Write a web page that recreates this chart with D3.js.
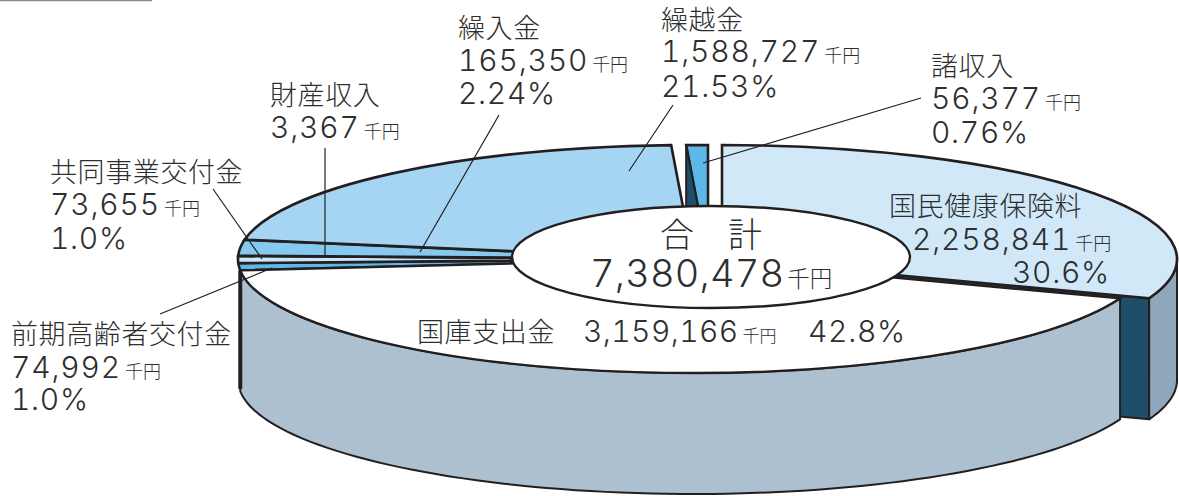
<!DOCTYPE html>
<html lang="ja"><head><meta charset="utf-8">
<script src="https://cdn.jsdelivr.net/npm/d3@7"></script>
<style>html,body{margin:0;padding:0;background:#fff}svg{display:block}
text{font-family:"Noto Sans CJK JP","Noto Sans",sans-serif;font-weight:300;fill:#2e2e2e}
.n{font-family:Inter,"Noto Sans CJK JP",sans-serif;font-weight:300;font-variant-numeric:tabular-nums;font-feature-settings:"tnum" 1}
.u{font-family:"Noto Sans CJK JP",sans-serif;font-weight:300;letter-spacing:0}</style>
</head><body><svg id="c" width="1179" height="496"></svg>
<script>
const names = ["国民健康保険料","国庫支出金","前期高齢者交付金","共同事業交付金","財産収入","繰入金","繰越金","諸収入"];
const values = [2258841,3159166,74992,73655,3367,165350,1588727,56377];
const percents = ["30.6%","42.8%","1.0%","1.0%","","2.24%","21.53%","0.76%"];
const totalLabel = "合　計";
const totalValue = 7380478;
const unit = "千円";

const W=1179,H=496, RX=455, RY=114, CY=259, DEPTH=121, INK="#231f20";
const colors = ["#d0e8f8","#ffffff","#5cb8e8","#cbe6f8","#cbe6f8","#85c9ef","#a5d5f2","#5cb8e8"];
const cx = i => i===0 ? 722 : i===7 ? 708 : 693;

const svg = d3.select("#c");
const pie = d3.pie().sort(null).startAngle(0).endAngle(2*Math.PI)(values);
const arc = d3.arc().innerRadius(0).outerRadius(RX);
const sx = a => Math.sin(a)*RX, sy = a => -Math.cos(a)*RY;
const fmt = d3.format(",");

// outer walls, built from pie angles
function wall(i,a0,a1){
  const n=80, pts=[];
  d3.range(n+1).forEach(k=>{const a=a0+(a1-a0)*k/n; pts.push([cx(i)+sx(a),CY+sy(a)]);});
  d3.range(n+1).forEach(k=>{const a=a1+(a0-a1)*k/n; pts.push([cx(i)+sx(a),CY+sy(a)+DEPTH]);});
  return d3.line()(pts)+"Z";
}
const walls = svg.append("g").attr("stroke",INK).attr("stroke-width",2).attr("stroke-linejoin","round");
const blue=pie[0], white=pie[1];
walls.append("path").attr("d",wall(0,Math.PI/2,blue.endAngle)).attr("fill","#8fa7bb");
{
 const a=blue.endAngle, x=cx(0), xe=x+sx(a), ye=CY+sy(a);
 walls.append("path").attr("d",d3.line()([[x,CY],[xe,ye],[xe,ye+DEPTH],[x,CY+DEPTH]])+"Z").attr("fill","#1f4f68");
}
walls.append("path").attr("d",wall(1,white.startAngle,white.endAngle)).attr("fill","#adc0cf");
{
 const a=white.endAngle, x=cx(1)+sx(a), y=CY+sy(a);
 walls.append("line").attr("x1",x).attr("x2",x).attr("y1",y).attr("y2",y+DEPTH*0.98).attr("stroke-width",4);
}

// top faces
const tops = svg.append("g");
[0,2,3,4,5,6,7,1].forEach(i=>{
  tops.append("path").attr("d",arc(pie[i]))
   .attr("transform",`translate(${cx(i)},${CY}) scale(1,${RY/RX})`)
   .attr("fill",colors[i]).attr("stroke",INK).attr("stroke-width",i===1?2.4:2.6)
   .attr("stroke-linejoin","miter")
   .style("vector-effect","non-scaling-stroke");
});
// visible side of the exploded sliver
{
 const a=pie[7].startAngle, x=cx(7), xe=x+sx(a), ye=CY+sy(a);
 tops.append("path").attr("d",d3.line()([[xe,ye],[x,CY],[xe,CY]])+"Z")
  .attr("fill","#1f4f68").attr("stroke",INK).attr("stroke-width",2);
}
// centre hole
svg.append("ellipse").attr("cx",711).attr("cy",257).attr("rx",199).attr("ry",51)
  .attr("fill","#fff").attr("stroke",INK).attr("stroke-width",2.4);

// top-left rule
svg.append("line").attr("x1",0).attr("x2",152).attr("y1",0.5).attr("y2",0.5).attr("stroke","#888").attr("stroke-width",1.5);

// leader lines
const leaders=[[213,189,262,259],[325,148,325,258],[499,115,420,252],[673,105,629,171],[921,98,703,163],[160,314,272,268]];
svg.append("g").selectAll("line").data(leaders).join("line")
 .attr("x1",d=>d[0]).attr("y1",d=>d[1]).attr("x2",d=>d[2]).attr("y2",d=>d[3])
 .attr("stroke",INK).attr("stroke-width",1.2);

// labels
const NAMEFS=27, NUMFS=30, UNITFS=18;
function t(x,y,str,fs,ls){return svg.append("text").attr("x",x).attr("y",y).attr("font-size",fs).attr("letter-spacing",ls||0).text(str);}
function num(x,y,v,fs,ufs,gap,ls){
  const n=svg.append("text").attr("x",x).attr("y",y).attr("font-size",fs||NUMFS).attr("class","n");
  n.append("tspan").attr("letter-spacing",ls==null?0.8:ls).text(fmt(v));
  n.append("tspan").attr("dx",gap==null?4:gap).attr("font-size",ufs||UNITFS).attr("class","u").text(unit);
}
function pct(x,y,s){t(x,y,s,NUMFS,0.7).attr("class","n");}
const spots={0:[889,216,912,250,1012,283],2:[11,344,11,378,11,410],3:[50,182,50,215,50,249],4:[270,105,270,138],5:[458,38,458,71,458,104],6:[661,30,661,62,661,97],7:[931,76,931,109,931,143]};
Object.keys(spots).forEach(k=>{
  const i=+k,s=spots[k];
  t(s[0],s[1],names[i],NAMEFS,0.6);
  num(s[2],s[3],values[i]);
  if(percents[i]) pct(s[4],s[5],percents[i]);
});
t(417,342,names[1],NAMEFS,0.6);
num(583,342,values[1],30,17,4,0.4);
pct(808,342,percents[1]);
t(711,247,totalLabel,34,0).attr("text-anchor","middle");
num(590,287,totalValue,38,22.5,3,0.2);
</script></body></html>
